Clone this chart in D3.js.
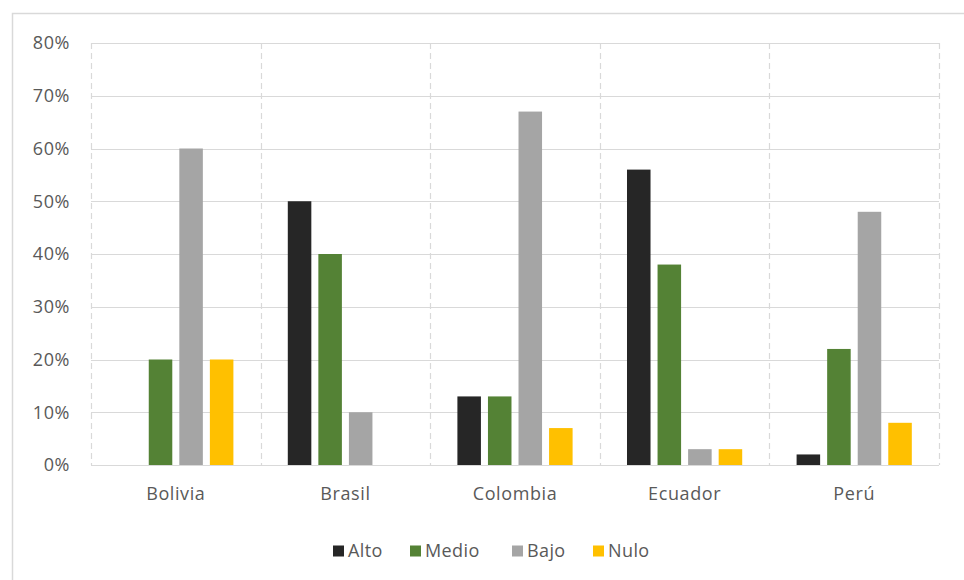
<!DOCTYPE html>
<html>
<head>
<meta charset="utf-8">
<script src="https://cdn.jsdelivr.net/npm/d3@7"></script>
<style>
  html, body { margin: 0; padding: 0; background: #fff; }
  svg { display: block; }
  text { font-family: "Open Sans", "Liberation Sans", sans-serif; fill: #595959; }
</style>
</head>
<body>
<script>
// Country categories and the share of each level per country
const countries = ["Bolivia", "Brasil", "Colombia", "Ecuador", "Perú"];
const levels = ["Alto", "Medio", "Bajo", "Nulo"];
const alto  = [0, 50, 13, 56, 2];
const medio = [20, 40, 13, 38, 22];
const bajo  = [60, 10, 67, 3, 48];
const nulo  = [20, 0, 7, 3, 8];
const yTicks = [0, 10, 20, 30, 40, 50, 60, 70, 80];
const levelColors = ["#262626", "#548235", "#a5a5a5", "#ffc000"];

const seriesByLevel = { Alto: alto, Medio: medio, Bajo: bajo, Nulo: nulo };
const rows = countries.map((c, i) => ({
  country: c,
  values: levels.map(l => ({ level: l, value: seriesByLevel[l][i] }))
}));

const W = 964, H = 580;
const plot = { left: 91, right: 939, top: 43, bottom: 465 };
const FONT = '"Open Sans", "Liberation Sans", sans-serif';

const svg = d3.select("body").append("svg").attr("width", W).attr("height", H);

// outer chart frame
svg.append("rect")
  .attr("x", 12.5).attr("y", 13.5)
  .attr("width", W + 10).attr("height", H + 10)
  .attr("fill", "none").attr("stroke", "#d9d9d9").attr("stroke-width", 1.5);

const x0 = d3.scaleBand().domain(countries).range([plot.left, plot.right]).padding(0);
const x1 = d3.scaleBand().domain(levels).range([0, x0.bandwidth()])
  .paddingInner(0.23).paddingOuter(0.89);
const y = d3.scaleLinear().domain([0, 80]).range([plot.bottom, plot.top]);
const color = d3.scaleOrdinal().domain(levels).range(levelColors);

// horizontal gridlines
svg.append("g").selectAll("line").data(yTicks).join("line")
  .attr("x1", plot.left).attr("x2", plot.right)
  .attr("y1", d => Math.round(y(d)) + 0.5).attr("y2", d => Math.round(y(d)) + 0.5)
  .attr("stroke", "#d9d9d9").attr("stroke-width", 1.2);

// dashed category separators
const seps = countries.map(c => x0(c)).concat([plot.right]);
svg.append("g").selectAll("line").data(seps).join("line")
  .attr("x1", d => Math.round(d) + 0.5).attr("x2", d => Math.round(d) + 0.5)
  .attr("y1", plot.top).attr("y2", plot.bottom)
  .attr("stroke", "#d9d9d9").attr("stroke-width", 1.2)
  .attr("stroke-dasharray", "6,4");

// y axis labels
const yAxis = d3.axisLeft(y).tickValues(yTicks).tickFormat(d => d + "%").tickSize(0).tickPadding(0);
const yg = svg.append("g").attr("transform", `translate(70,0)`).call(yAxis);
yg.select(".domain").remove();
yg.selectAll("text").attr("font-size", 18).attr("fill", "#595959")
  .attr("letter-spacing", 0.6).style("font-family", FONT);

// x axis labels
const xAxis = d3.axisBottom(x0).tickSize(0).tickPadding(0);
const xg = svg.append("g").attr("transform", `translate(0,487)`).call(xAxis);
xg.select(".domain").remove();
xg.selectAll("text").attr("font-size", 18).attr("fill", "#595959")
  .attr("letter-spacing", 0.6).style("font-family", FONT);

// bars
svg.append("g").selectAll("g").data(rows).join("g")
  .attr("transform", d => `translate(${x0(d.country)},0)`)
  .selectAll("rect").data(d => d.values).join("rect")
  .attr("x", d => x1(d.level))
  .attr("width", x1.bandwidth())
  .attr("y", d => y(d.value))
  .attr("height", d => y(0) - y(d.value))
  .attr("fill", d => color(d.level));

// legend
const legendX = [333, 410, 512, 593];
const lg = svg.append("g").selectAll("g").data(levels).join("g")
  .attr("transform", (d, i) => `translate(${legendX[i]},551)`);
lg.append("rect").attr("x", 0).attr("y", -5.5).attr("width", 11).attr("height", 11)
  .attr("fill", d => color(d));
lg.append("text").attr("x", 15).attr("dy", "0.35em").attr("font-size", 18)
  .attr("letter-spacing", 0.4).text(d => d);
</script>
</body>
</html>
